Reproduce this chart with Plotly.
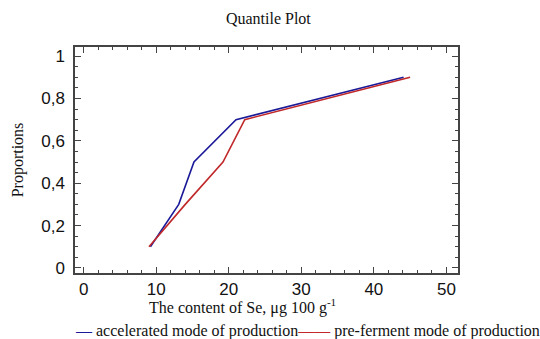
import plotly.graph_objects as go

acc_x = [9.2, 13.1, 15.2, 21.0, 44.1]
acc_y = [0.1, 0.3, 0.5, 0.7, 0.9]
pre_x = [9.0, 14.0, 19.2, 22.2, 45.0]
pre_y = [0.1, 0.3, 0.5, 0.7, 0.9]

names = ["accelerated mode of production", "pre-ferment mode of production"]
colors = ["#1a1a99", "#c0282a"]
legend_marks = ["—", "——"]

x_ticks = [0, 10, 20, 30, 40, 50]
y_ticks = [0, 0.2, 0.4, 0.6, 0.8, 1]

x_title = "The content of Se, μg 100 g<sup>-1</sup>"

fig = go.Figure()
fig.add_trace(go.Scatter(x=acc_x, y=acc_y, mode="lines", name=names[0], showlegend=False,
                         line=dict(color=colors[0], width=1.6)))
fig.add_trace(go.Scatter(x=pre_x, y=pre_y, mode="lines", name=names[1], showlegend=False,
                         line=dict(color=colors[1], width=1.6)))

serif = "Liberation Serif, Times New Roman, serif"
sans = "Liberation Sans, Arial, sans-serif"

axis_common = dict(showline=True, linecolor="#444", linewidth=1.5, mirror="ticks",
                   ticks="inside", ticklen=6, tickcolor="#444", tickwidth=1.2,
                   showgrid=False, zeroline=False, automargin=False,
                   tickfont=dict(family=sans, size=17, color="#111"))

legend_text = "".join(
    f"<span style='color:{c}'>{m}</span> {n}" for n, c, m in zip(names, colors, legend_marks)
)

fig.update_layout(
    width=540, height=339,
    paper_bgcolor="white", plot_bgcolor="white",
    separators=", ",
    margin=dict(l=75, r=82, t=47, b=66),
    title=dict(text="Quantile Plot", x=0.497, xanchor="center", y=0.947, yanchor="middle",
               automargin=False,
               font=dict(family=serif, size=16, color="#111")),
    xaxis=dict(range=[-1.2, 51.6], tickvals=x_ticks, ticklabelstandoff=0,
               minor=dict(dtick=2, ticks="inside", ticklen=3, tickcolor="#444"),
               **axis_common),
    yaxis=dict(range=[-0.024, 1.043], tickvals=y_ticks, ticklabelstandoff=5,
               minor=dict(dtick=0.05, ticks="inside", ticklen=3, tickcolor="#444"),
               title=dict(text="Proportions", standoff=14,
                          font=dict(family=serif, size=16, color="#111")),
               **axis_common),
    annotations=[
        dict(text=x_title, xref="paper", yref="paper",
             x=0.188, y=-0.150, xanchor="left", yanchor="middle",
             showarrow=False, font=dict(family=serif, size=16, color="#111")),
        dict(text=legend_text, xref="paper", yref="paper",
             x=-0.005, y=-0.258, xanchor="left", yanchor="middle",
             showarrow=False, font=dict(family=serif, size=16, color="#111")),
    ],
)
fig.write_html("out.html", config={"displayModeBar": False},
               post_script="document.body.style.margin='0';document.body.style.overflow='hidden';")
